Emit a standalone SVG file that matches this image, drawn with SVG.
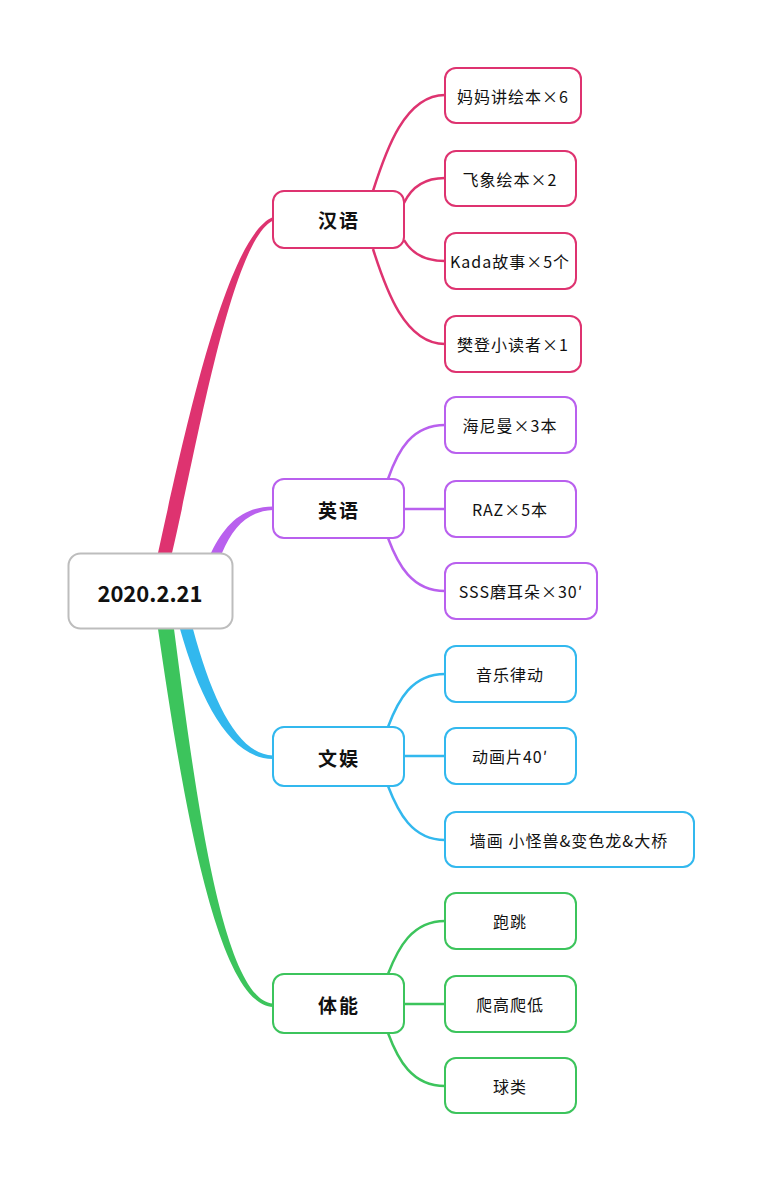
<svg xmlns="http://www.w3.org/2000/svg" width="763" height="1183" viewBox="0 0 763 1183">
<style>
.box{fill:#fff;stroke-width:2}
.t{font-family:"Noto Sans CJK SC","Noto Sans",sans-serif;fill:#111;text-anchor:middle;dominant-baseline:central}
.leaf{font-size:16px;letter-spacing:1px}
.br{font-size:19px;font-weight:bold;letter-spacing:2px}
.root{font-size:22px;font-weight:bold}
.ln{fill:none;stroke-width:2.5}
.pk{stroke:#de3370}.pu{stroke:#b960ee}.bl{stroke:#32b8ee}.gr{stroke:#3cc45c}
</style>
<rect width="763" height="1183" fill="#fff"/>
<g id="connectors">
<path d="M158 553 C183 440 226 236 273 217 L273 220.5 C231 241 196 452 172 553 Z" fill="#de3370"/>
<path d="M211 553 C226 522 244 507 273 506.5 L273 510 C248 511 233 527 222 553 Z" fill="#b960ee"/>
<path d="M180 629 C200 700 230 759 273 759 L273 755.5 C238 755 212 700 193 629 Z" fill="#32b8ee"/>
<path d="M158 629 C180 780 215 1005 273 1007 L273 1003.5 C222 1000 195 790 174 629 Z" fill="#3cc45c"/>
<path class="ln pk" d="M373 191 C386 150 405 95 445 95"/>
<path class="ln pk" d="M404 203 C412 186 425 178 445 178"/>
<path class="ln pk" d="M404 240 C412 254 425 261 445 261"/>
<path class="ln pk" d="M373 249 C386 290 405 344 445 344"/>
<path class="ln pu" d="M388 479 C398 450 412 425 445 425"/>
<path class="ln pu" d="M404 509 L445 509"/>
<path class="ln pu" d="M388 538 C398 565 412 591 445 591"/>
<path class="ln bl" d="M388 727 C398 700 412 674 445 674"/>
<path class="ln bl" d="M404 756 L445 756"/>
<path class="ln bl" d="M388 786 C398 812 412 840 445 840"/>
<path class="ln gr" d="M388 974 C398 948 412 921 445 921"/>
<path class="ln gr" d="M404 1004 L445 1004"/>
<path class="ln gr" d="M388 1033 C398 1060 412 1086 445 1086"/>
</g>
<g id="root"><rect class="box" x="68.5" y="553.5" width="164" height="75" rx="12" stroke="#bdbdbd"/><text class="t root" x="150" y="592">2020.2.21</text></g>
<g id="b-hanyu"><rect class="box pk" x="273" y="191" width="131" height="57" rx="11"/><text class="t br" x="339" y="219">汉语</text></g>
<g id="l-1"><rect class="box pk" x="445" y="68" width="136" height="55" rx="11"/><text class="t leaf" x="513" y="96">妈妈讲绘本×6</text></g>
<g id="l-2"><rect class="box pk" x="445" y="151" width="131" height="55" rx="11"/><text class="t leaf" x="510" y="179">飞象绘本×2</text></g>
<g id="l-3"><rect class="box pk" x="445" y="233" width="131" height="56" rx="11"/><text class="t leaf" x="510" y="261">Kada故事×5个</text></g>
<g id="l-4"><rect class="box pk" x="445" y="316" width="136" height="56" rx="11"/><text class="t leaf" x="513" y="344">樊登小读者×1</text></g>
<g id="b-yingyu"><rect class="box pu" x="273" y="479" width="131" height="59" rx="11"/><text class="t br" x="339" y="509">英语</text></g>
<g id="l-5"><rect class="box pu" x="445" y="397" width="131" height="56" rx="11"/><text class="t leaf" x="510" y="425">海尼曼×3本</text></g>
<g id="l-6"><rect class="box pu" x="445" y="481" width="131" height="56" rx="11"/><text class="t leaf" x="510" y="509">RAZ×5本</text></g>
<g id="l-7"><rect class="box pu" x="445" y="563" width="152" height="56" rx="11"/><text class="t leaf" x="521" y="591">SSS磨耳朵×30′</text></g>
<g id="b-wenyu"><rect class="box bl" x="273" y="727" width="131" height="59" rx="11"/><text class="t br" x="339" y="757">文娱</text></g>
<g id="l-8"><rect class="box bl" x="445" y="646" width="131" height="56" rx="11"/><text class="t leaf" x="510" y="674">音乐律动</text></g>
<g id="l-9"><rect class="box bl" x="445" y="728" width="131" height="56" rx="11"/><text class="t leaf" x="510" y="756">动画片40′</text></g>
<g id="l-10"><rect class="box bl" x="445" y="812" width="249" height="55" rx="11"/><text class="t leaf" x="569" y="840">墙画 小怪兽&amp;变色龙&amp;大桥</text></g>
<g id="b-tineng"><rect class="box gr" x="273" y="974" width="131" height="59" rx="11"/><text class="t br" x="339" y="1004">体能</text></g>
<g id="l-11"><rect class="box gr" x="445" y="893" width="131" height="56" rx="11"/><text class="t leaf" x="510" y="921">跑跳</text></g>
<g id="l-12"><rect class="box gr" x="445" y="976" width="131" height="56" rx="11"/><text class="t leaf" x="510" y="1004">爬高爬低</text></g>
<g id="l-13"><rect class="box gr" x="445" y="1058" width="131" height="55" rx="11"/><text class="t leaf" x="510" y="1086">球类</text></g>
</svg>
